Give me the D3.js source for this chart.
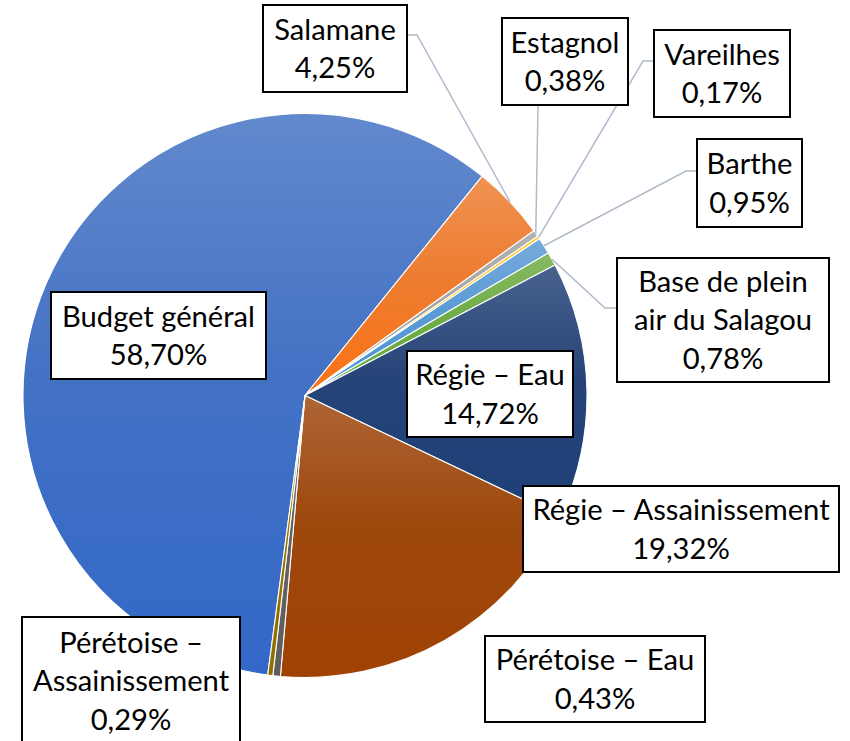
<!DOCTYPE html>
<html>
<head>
<meta charset="utf-8">
<script src="https://cdn.jsdelivr.net/npm/d3@7"></script>
<style>
  body { margin: 0; background: #fff; }
  svg { display: block; }
</style>
</head>
<body>
<div class="chart"></div>
<script>
// budget shares (%)
const categories = ["Budget général", "Salamane", "Estagnol", "Vareilhes", "Barthe",
  "Base de plein air du Salagou", "Régie – Eau", "Régie – Assainissement",
  "Pérétoise – Eau", "Pérétoise – Assainissement"];
const shares = [58.70, 4.25, 0.38, 0.17, 0.95, 0.78, 14.72, 19.32, 0.43, 0.29];
// how each label name is broken over lines
const labelLines = [["Budget général"], ["Salamane"], ["Estagnol"], ["Vareilhes"], ["Barthe"],
  ["Base de plein", "air du Salagou"], ["Régie – Eau"], ["Régie – Assainissement"],
  ["Pérétoise – Eau"], ["Pérétoise –", "Assainissement"]];

const colors = ["#4472C4", "#ED7D31", "#A5A5A5", "#FFC000", "#5B9BD5",
  "#70AD47", "#264478", "#9E480E", "#636363", "#997300"];

const width = 850, height = 741;
const cx = 305, cy = 395.5, radius = 282;
const startDeg = 187.6;

// label box layout (hand placed, like the original)
const boxes = [
  {x: 51,  y: 292, w: 215, h: 87},
  {x: 263, y: 5,   w: 144, h: 87,  leader: [[407, 35], [417, 35]]},
  {x: 502, y: 18,  w: 126, h: 87,  leader: [[538, 105]]},
  {x: 654, y: 30,  w: 136, h: 87,  leader: [[654, 61], [643, 61]]},
  {x: 697, y: 139, w: 105, h: 88,  leader: [[697, 171], [686, 171]]},
  {x: 617, y: 258, w: 212, h: 124, leader: [[617, 308], [605, 308]]},
  {x: 407, y: 351, w: 166, h: 86},
  {x: 523, y: 486, w: 316, h: 86},
  {x: 485, y: 636, w: 220, h: 86},
  {x: 22,  y: 617, w: 218, h: 128}
];

const data = categories.map((c, i) => ({name: c, value: shares[i], lines: labelLines[i], color: colors[i], box: boxes[i]}));

const svg = d3.select(".chart").append("svg")
  .attr("width", width)
  .attr("height", height);

const defs = svg.append("defs");
data.forEach((d, i) => {
  const g = defs.append("linearGradient")
    .attr("id", "grad" + i)
    .attr("x1", 0).attr("y1", 0).attr("x2", 0).attr("y2", 1);
  const deep = d3.hsl(d.color);
  deep.s = Math.min(1, deep.s * 1.15);
  deep.l = deep.l * 0.95;
  g.append("stop").attr("offset", "0%").attr("stop-color", d3.interpolateRgb(d.color, "#fff")(0.16));
  g.append("stop").attr("offset", "45%").attr("stop-color", d.color);
  g.append("stop").attr("offset", "100%").attr("stop-color", deep.formatHex());
});

const pie = d3.pie()
  .sort(null)
  .value(d => d.value)
  .startAngle(startDeg * Math.PI / 180)
  .endAngle(startDeg * Math.PI / 180 + 2 * Math.PI);

const arcs = pie(data);

const arc = d3.arc().innerRadius(0).outerRadius(radius);

const g = svg.append("g").attr("transform", `translate(${cx},${cy})`);

g.selectAll("path.slice")
  .data(arcs)
  .enter()
  .append("path")
  .attr("class", "slice")
  .attr("d", arc)
  .attr("fill", (d, i) => `url(#grad${i})`)
  .attr("stroke", "#fff")
  .attr("stroke-width", 1.1)
  .attr("stroke-linejoin", "round");

// leader lines: from box to the slice edge at its mid angle
function edgePoint(a) {
  const m = (a.startAngle + a.endAngle) / 2;
  return [cx + radius * Math.sin(m), cy - radius * Math.cos(m)];
}

const line = d3.line();
svg.selectAll("path.leader")
  .data(arcs.filter(a => a.data.box.leader))
  .enter()
  .append("path")
  .attr("class", "leader")
  .attr("d", a => line([...a.data.box.leader, edgePoint(a)]))
  .attr("fill", "none")
  .attr("stroke", "#aebbcc")
  .attr("stroke-width", 1.5);

// labels
const fmt = v => d3.format(".2f")(v).replace(".", ",") + "%";
const fontFamily = "Lato, 'Open Sans', sans-serif";

// fit font size so text widths match the original (Calibri-like)
const probe = svg.append("text").attr("font-family", fontFamily).attr("font-size", 100).text("Budget général");
const fontSize = 100 * 193 / probe.node().getComputedTextLength();
probe.remove();
const lineStep = 38.5;

const lab = svg.selectAll("g.label")
  .data(data)
  .enter()
  .append("g")
  .attr("class", "label");

lab.append("rect")
  .attr("x", d => d.box.x)
  .attr("y", d => d.box.y)
  .attr("width", d => d.box.w)
  .attr("height", d => d.box.h)
  .attr("fill", "#fff")
  .attr("stroke", "#000")
  .attr("stroke-width", 2);

lab.each(function(d) {
  const t = d3.select(this);
  const rows = [...d.lines, fmt(d.value)];
  const mid = d.box.y + d.box.h / 2;
  rows.forEach((r, k) => {
    t.append("text")
      .attr("x", d.box.x + d.box.w / 2)
      .attr("y", mid + (k - (rows.length - 1) / 2) * lineStep)
      .attr("dy", "0.36em")
      .attr("text-anchor", "middle")
      .attr("font-family", fontFamily)
      .attr("font-size", fontSize)
      .attr("fill", "#000")
      .text(r);
  });
});
</script>
</body>
</html>
